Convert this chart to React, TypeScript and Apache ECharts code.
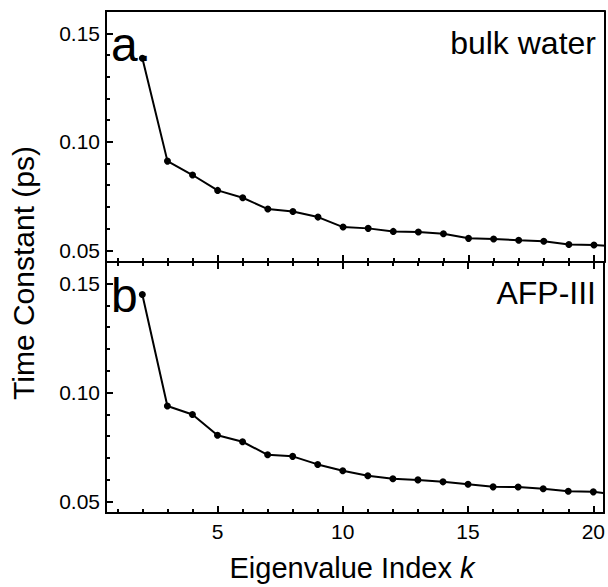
import React, { useEffect, useRef } from "react";
import * as echarts from "echarts";

// Eigenvalue index k (the k = 21 point lies beyond the right frame and is clipped)
const kIndex = [2, 3, 4, 5, 6, 7, 8, 9, 10, 11, 12, 13, 14, 15, 16, 17, 18, 19, 20, 21];
// Panel a: bulk water time constants (ps)
const bulkWater = [0.1385, 0.0911, 0.0847, 0.0776, 0.0742, 0.069, 0.0679, 0.0653, 0.0607, 0.0601, 0.0587, 0.0584, 0.0576, 0.0555, 0.0552, 0.0546, 0.0542, 0.0527, 0.0524, 0.0518];
// Panel b: AFP-III time constants (ps)
const afp3 = [0.145, 0.0938, 0.0899, 0.0804, 0.0774, 0.0714, 0.0707, 0.067, 0.0641, 0.0618, 0.0604, 0.0599, 0.059, 0.0579, 0.0567, 0.0566, 0.0558, 0.0547, 0.0544, 0.053];

const xMajor = [5, 10, 15, 20];
const xMinor = [1, 2, 3, 4, 6, 7, 8, 9, 11, 12, 13, 14, 16, 17, 18, 19];
const yMajor = [0.05, 0.1, 0.15];
const yMinor = [0.06, 0.07, 0.08, 0.09, 0.11, 0.12, 0.13, 0.14];

const FONT = "'Liberation Sans', Arial, Helvetica, sans-serif";

export default function App() {
  const ref = useRef<HTMLDivElement>(null);
  useEffect(() => {
    if (!ref.current) return;
    const chart = echarts.init(ref.current, undefined, { renderer: "svg" });
    const X_MIN = 0.55;
    const X_MAX = 20.42;
    const lineStyle = { color: "#000", width: 2 };

    const xAx = (grid: number, position: string, ticks: number[] | null, len: number, labels: boolean) => ({
      type: "value",
      gridIndex: grid,
      position,
      min: X_MIN,
      max: X_MAX,
      axisLine: { show: true, onZero: false, lineStyle },
      axisTick: ticks
        ? { show: true, inside: true, length: len, customValues: ticks, lineStyle: { color: "#000", width: 2 } }
        : { show: false },
      axisLabel: labels
        ? { show: true, customValues: xMajor, margin: 8, color: "#000", fontSize: 21, fontFamily: FONT, formatter: (v: number) => String(Math.round(v)) }
        : { show: false },
      splitLine: { show: false },
    });
    const yAx = (grid: number, position: string, ticks: number[] | null, len: number, labels: boolean, min: number, max: number) => ({
      type: "value",
      gridIndex: grid,
      position,
      min,
      max,
      axisLine: { show: true, onZero: false, lineStyle },
      axisTick: ticks
        ? { show: true, inside: true, length: len, customValues: ticks, lineStyle: { color: "#000", width: 2 } }
        : { show: false },
      axisLabel: labels
        ? { show: true, customValues: yMajor, margin: 6, color: "#000", fontSize: 21, fontFamily: FONT, formatter: (v: number) => v.toFixed(2) }
        : { show: false },
      splitLine: { show: false },
    });

    const topMin = 0.0446, topMax = 0.1603;
    const botMin = 0.0447, botMax = 0.1599;

    const option = {
      animation: false,
      backgroundColor: "#fff",
      grid: [
        { left: 106, top: 11, width: 498.5, height: 251 },
        { left: 106, top: 262, width: 498.5, height: 251 },
      ],
      xAxis: [
        xAx(0, "bottom", xMajor, 7, false),
        xAx(0, "bottom", xMinor, 4, false),
        xAx(0, "top", null, 0, false),
        xAx(1, "bottom", xMajor, 7, true),
        xAx(1, "bottom", xMinor, 4, false),
        xAx(1, "top", xMajor, 7, false),
        xAx(1, "top", xMinor, 4, false),
      ],
      yAxis: [
        yAx(0, "left", yMajor, 7, true, topMin, topMax),
        yAx(0, "left", yMinor, 4, false, topMin, topMax),
        yAx(0, "right", null, 0, false, topMin, topMax),
        yAx(1, "left", yMajor, 7, true, botMin, botMax),
        yAx(1, "left", yMinor, 4, false, botMin, botMax),
        yAx(1, "right", null, 0, false, botMin, botMax),
      ],
      series: [
        {
          type: "line",
          xAxisIndex: 0,
          yAxisIndex: 0,
          data: kIndex.map((k, i) => [k, bulkWater[i]]),
          symbol: "circle",
          symbolSize: 7,
          clip: true,
          lineStyle: { color: "#000", width: 2 },
          itemStyle: { color: "#000" },
        },
        {
          type: "line",
          xAxisIndex: 3,
          yAxisIndex: 3,
          data: kIndex.map((k, i) => [k, afp3[i]]),
          symbol: "circle",
          symbolSize: 7,
          clip: true,
          lineStyle: { color: "#000", width: 2 },
          itemStyle: { color: "#000" },
        },
      ],
      graphic: [
        { type: "text", x: 111, y: 44, style: { text: "a.", font: `48px ${FONT}`, fill: "#000", align: "left", verticalAlign: "middle" } },
        { type: "text", x: 111, y: 295, style: { text: "b", font: `48px ${FONT}`, fill: "#000", align: "left", verticalAlign: "middle" } },
        { type: "text", x: 596, y: 43, style: { text: "bulk water", font: `32px ${FONT}`, fill: "#000", align: "right", verticalAlign: "middle" } },
        { type: "text", x: 596, y: 293, style: { text: "AFP-III", font: `32px ${FONT}`, fill: "#000", align: "right", verticalAlign: "middle" } },
        {
          type: "text",
          x: 23,
          y: 273,
          rotation: Math.PI / 2,
          style: { text: "Time Constant (ps)", font: `30px ${FONT}`, fill: "#000", align: "center", verticalAlign: "middle" },
        },
        {
          type: "text",
          x: 352,
          y: 568,
          style: {
            text: "Eigenvalue Index {k|k}",
            font: `29px ${FONT}`,
            fill: "#000",
            align: "center",
            verticalAlign: "middle",
            rich: { k: { fontStyle: "italic", fontSize: 29, fontFamily: FONT, fill: "#000" } },
          },
        },
      ],
    };
    chart.setOption(option as any);
    return () => chart.dispose();
  }, []);
  return <div ref={ref} style={{ position: "fixed", left: 0, top: 0, width: 608, height: 587 }} />;
}
